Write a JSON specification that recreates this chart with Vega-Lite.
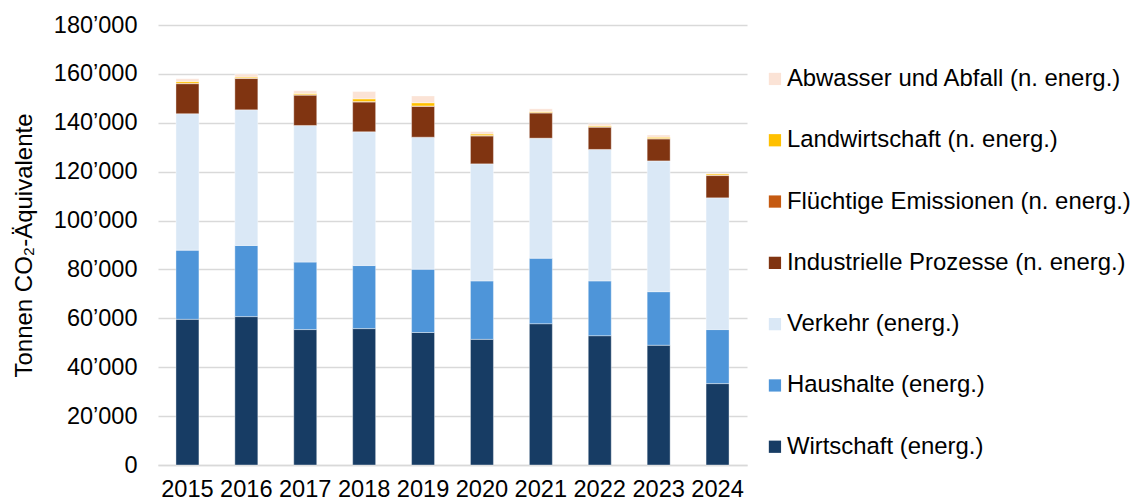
{
  "$schema": "https://vega.github.io/schema/vega-lite/v6.json",
  "width": 589,
  "height": 440,
  "autosize": {"type": "none"},
  "padding": {"left": 158, "top": 25, "right": 386, "bottom": 37},
  "background": "#ffffff",
  "config": {
    "font": "Liberation Sans",
    "view": {"stroke": null}
  },
  "data": {
    "values": [
      {"Jahr": "2015", "Kategorie": "Wirtschaft (energ.)", "Wert": 59600},
      {"Jahr": "2015", "Kategorie": "Haushalte (energ.)", "Wert": 28300},
      {"Jahr": "2015", "Kategorie": "Verkehr (energ.)", "Wert": 55800},
      {"Jahr": "2015", "Kategorie": "Industrielle Prozesse (n. energ.)", "Wert": 12300},
      {"Jahr": "2015", "Kategorie": "Flüchtige Emissionen (n. energ.)", "Wert": 200},
      {"Jahr": "2015", "Kategorie": "Landwirtschaft (n. energ.)", "Wert": 700},
      {"Jahr": "2015", "Kategorie": "Abwasser und Abfall (n. energ.)", "Wert": 1100},

      {"Jahr": "2016", "Kategorie": "Wirtschaft (energ.)", "Wert": 60700},
      {"Jahr": "2016", "Kategorie": "Haushalte (energ.)", "Wert": 29100},
      {"Jahr": "2016", "Kategorie": "Verkehr (energ.)", "Wert": 55500},
      {"Jahr": "2016", "Kategorie": "Industrielle Prozesse (n. energ.)", "Wert": 12800},
      {"Jahr": "2016", "Kategorie": "Flüchtige Emissionen (n. energ.)", "Wert": 200},
      {"Jahr": "2016", "Kategorie": "Landwirtschaft (n. energ.)", "Wert": 400},
      {"Jahr": "2016", "Kategorie": "Abwasser und Abfall (n. energ.)", "Wert": 1200},

      {"Jahr": "2017", "Kategorie": "Wirtschaft (energ.)", "Wert": 55400},
      {"Jahr": "2017", "Kategorie": "Haushalte (energ.)", "Wert": 27600},
      {"Jahr": "2017", "Kategorie": "Verkehr (energ.)", "Wert": 55900},
      {"Jahr": "2017", "Kategorie": "Industrielle Prozesse (n. energ.)", "Wert": 12400},
      {"Jahr": "2017", "Kategorie": "Flüchtige Emissionen (n. energ.)", "Wert": 200},
      {"Jahr": "2017", "Kategorie": "Landwirtschaft (n. energ.)", "Wert": 500},
      {"Jahr": "2017", "Kategorie": "Abwasser und Abfall (n. energ.)", "Wert": 1100},

      {"Jahr": "2018", "Kategorie": "Wirtschaft (energ.)", "Wert": 55800},
      {"Jahr": "2018", "Kategorie": "Haushalte (energ.)", "Wert": 25800},
      {"Jahr": "2018", "Kategorie": "Verkehr (energ.)", "Wert": 54700},
      {"Jahr": "2018", "Kategorie": "Industrielle Prozesse (n. energ.)", "Wert": 12200},
      {"Jahr": "2018", "Kategorie": "Flüchtige Emissionen (n. energ.)", "Wert": 200},
      {"Jahr": "2018", "Kategorie": "Landwirtschaft (n. energ.)", "Wert": 1100},
      {"Jahr": "2018", "Kategorie": "Abwasser und Abfall (n. energ.)", "Wert": 3000},

      {"Jahr": "2019", "Kategorie": "Wirtschaft (energ.)", "Wert": 54200},
      {"Jahr": "2019", "Kategorie": "Haushalte (energ.)", "Wert": 25900},
      {"Jahr": "2019", "Kategorie": "Verkehr (energ.)", "Wert": 54000},
      {"Jahr": "2019", "Kategorie": "Industrielle Prozesse (n. energ.)", "Wert": 12600},
      {"Jahr": "2019", "Kategorie": "Flüchtige Emissionen (n. energ.)", "Wert": 200},
      {"Jahr": "2019", "Kategorie": "Landwirtschaft (n. energ.)", "Wert": 1300},
      {"Jahr": "2019", "Kategorie": "Abwasser und Abfall (n. energ.)", "Wert": 2800},

      {"Jahr": "2020", "Kategorie": "Wirtschaft (energ.)", "Wert": 51400},
      {"Jahr": "2020", "Kategorie": "Haushalte (energ.)", "Wert": 23900},
      {"Jahr": "2020", "Kategorie": "Verkehr (energ.)", "Wert": 47900},
      {"Jahr": "2020", "Kategorie": "Industrielle Prozesse (n. energ.)", "Wert": 11400},
      {"Jahr": "2020", "Kategorie": "Flüchtige Emissionen (n. energ.)", "Wert": 200},
      {"Jahr": "2020", "Kategorie": "Landwirtschaft (n. energ.)", "Wert": 600},
      {"Jahr": "2020", "Kategorie": "Abwasser und Abfall (n. energ.)", "Wert": 1000},

      {"Jahr": "2021", "Kategorie": "Wirtschaft (energ.)", "Wert": 57800},
      {"Jahr": "2021", "Kategorie": "Haushalte (energ.)", "Wert": 26800},
      {"Jahr": "2021", "Kategorie": "Verkehr (energ.)", "Wert": 49100},
      {"Jahr": "2021", "Kategorie": "Industrielle Prozesse (n. energ.)", "Wert": 10300},
      {"Jahr": "2021", "Kategorie": "Flüchtige Emissionen (n. energ.)", "Wert": 200},
      {"Jahr": "2021", "Kategorie": "Landwirtschaft (n. energ.)", "Wert": 400},
      {"Jahr": "2021", "Kategorie": "Abwasser und Abfall (n. energ.)", "Wert": 1100},

      {"Jahr": "2022", "Kategorie": "Wirtschaft (energ.)", "Wert": 52900},
      {"Jahr": "2022", "Kategorie": "Haushalte (energ.)", "Wert": 22400},
      {"Jahr": "2022", "Kategorie": "Verkehr (energ.)", "Wert": 53800},
      {"Jahr": "2022", "Kategorie": "Industrielle Prozesse (n. energ.)", "Wert": 9100},
      {"Jahr": "2022", "Kategorie": "Flüchtige Emissionen (n. energ.)", "Wert": 200},
      {"Jahr": "2022", "Kategorie": "Landwirtschaft (n. energ.)", "Wert": 400},
      {"Jahr": "2022", "Kategorie": "Abwasser und Abfall (n. energ.)", "Wert": 800},

      {"Jahr": "2023", "Kategorie": "Wirtschaft (energ.)", "Wert": 49000},
      {"Jahr": "2023", "Kategorie": "Haushalte (energ.)", "Wert": 21900},
      {"Jahr": "2023", "Kategorie": "Verkehr (energ.)", "Wert": 53500},
      {"Jahr": "2023", "Kategorie": "Industrielle Prozesse (n. energ.)", "Wert": 9000},
      {"Jahr": "2023", "Kategorie": "Flüchtige Emissionen (n. energ.)", "Wert": 200},
      {"Jahr": "2023", "Kategorie": "Landwirtschaft (n. energ.)", "Wert": 500},
      {"Jahr": "2023", "Kategorie": "Abwasser und Abfall (n. energ.)", "Wert": 900},

      {"Jahr": "2024", "Kategorie": "Wirtschaft (energ.)", "Wert": 33300},
      {"Jahr": "2024", "Kategorie": "Haushalte (energ.)", "Wert": 22100},
      {"Jahr": "2024", "Kategorie": "Verkehr (energ.)", "Wert": 53900},
      {"Jahr": "2024", "Kategorie": "Industrielle Prozesse (n. energ.)", "Wert": 9100},
      {"Jahr": "2024", "Kategorie": "Flüchtige Emissionen (n. energ.)", "Wert": 200},
      {"Jahr": "2024", "Kategorie": "Landwirtschaft (n. energ.)", "Wert": 500},
      {"Jahr": "2024", "Kategorie": "Abwasser und Abfall (n. energ.)", "Wert": 300}
    ]
  },
  "transform": [
    {
      "calculate": "indexof(['Wirtschaft (energ.)', 'Haushalte (energ.)', 'Verkehr (energ.)', 'Industrielle Prozesse (n. energ.)', 'Flüchtige Emissionen (n. energ.)', 'Landwirtschaft (n. energ.)', 'Abwasser und Abfall (n. energ.)'], datum.Kategorie)",
      "as": "Reihenfolge"
    }
  ],
  "mark": {"type": "bar", "stroke": "#ffffff", "strokeWidth": 0.75, "strokeOpacity": 0.5},
  "encoding": {
    "x": {
      "field": "Jahr",
      "type": "nominal",
      "scale": {"paddingInner": 0.61, "paddingOuter": 0.305},
      "axis": {
        "title": null,
        "labelAngle": 0,
        "labelFontSize": 23.6,
        "labelColor": "#000000",
        "labelPadding": 12,
        "ticks": false,
        "domainColor": "#d9d9d9",
        "domainWidth": 1.3,
        "grid": false
      }
    },
    "y": {
      "field": "Wert",
      "type": "quantitative",
      "stack": "zero",
      "scale": {"domain": [0, 180000], "nice": false},
      "axis": {
        "title": "Tonnen CO₂-Äquivalente",
        "titleFontSize": 24,
        "titleFontWeight": "normal",
        "titleColor": "#000000",
        "titlePadding": 17,
        "values": [0, 20000, 40000, 60000, 80000, 100000, 120000, 140000, 160000, 180000],
        "labelExpr": "replace(format(datum.value, ','), ',', '’')",
        "labelFontSize": 23.5,
        "labelColor": "#000000",
        "labelPadding": 21,
        "ticks": false,
        "domain": false,
        "grid": true,
        "gridColor": "#d9d9d9",
        "gridWidth": 1.3
      }
    },
    "order": {"field": "Reihenfolge", "type": "quantitative", "sort": "ascending"},
    "color": {
      "field": "Kategorie",
      "type": "nominal",
      "scale": {
        "domain": [
          "Wirtschaft (energ.)",
          "Haushalte (energ.)",
          "Verkehr (energ.)",
          "Industrielle Prozesse (n. energ.)",
          "Flüchtige Emissionen (n. energ.)",
          "Landwirtschaft (n. energ.)",
          "Abwasser und Abfall (n. energ.)"
        ],
        "range": ["#173c64", "#4e95d9", "#dae8f6", "#803411", "#c55a11", "#ffc000", "#fbe3d6"]
      },
      "legend": {
        "title": null,
        "orient": "none",
        "legendX": 605,
        "legendY": 42,
        "direction": "vertical",
        "values": [
          "Abwasser und Abfall (n. energ.)",
          "Landwirtschaft (n. energ.)",
          "Flüchtige Emissionen (n. energ.)",
          "Industrielle Prozesse (n. energ.)",
          "Verkehr (energ.)",
          "Haushalte (energ.)",
          "Wirtschaft (energ.)"
        ],
        "symbolType": "square",
        "symbolSize": 150,
        "symbolStrokeWidth": 0,
        "labelFontSize": 23.9,
        "labelColor": "#000000",
        "labelOffset": 0,
        "labelLimit": 400,
        "rowPadding": 36.3
      }
    }
  }
}
